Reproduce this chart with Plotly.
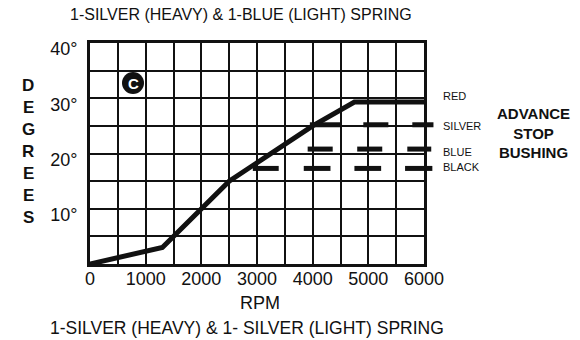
import plotly.graph_objects as go

# ---------------- data ----------------
rpm = [0, 1300, 2500, 4000, 4750, 6000]
degrees = [0, 3, 15, 25, 29.3, 29.3]

x_tick_vals = [0, 1000, 2000, 3000, 4000, 5000, 6000]
x_tick_text = ["0", "1000", "2000", "3000", "4000", "5000", "6000"]
y_tick_vals = [10, 20, 30, 40]
y_tick_text = ["10°", "20°", "30°", "40°"]

stop_names = ["RED", "SILVER", "BLUE", "BLACK"]
silver_level = 25.2
blue_level = 20.8
black_level = 17.3
silver_dashes = [(3950, 4500), (4910, 5360), (5790, 6170)]
blue_dashes = [(3910, 4360), (4800, 5250), (5700, 6130)]
black_dashes = [(2925, 3390), (3840, 4320), (4750, 5230), (5660, 6150)]

title_top = "1-SILVER (HEAVY) &amp; 1-BLUE (LIGHT) SPRING"
title_bottom = "1-SILVER (HEAVY) &amp; 1- SILVER (LIGHT) SPRING"
x_title = "RPM"
y_title = "DEGREES"
side_title = "ADVANCE<br>STOP<br>BUSHING"

# ---------------- layout geometry ----------------
W, H = 580, 340
ML, MR, MT, MB = 90, 146, 43, 76
PW = W - ML - MR
PH = H - MT - MB
XMAX = 6000
main_frac = 334 / PW
FONT = "Liberation Sans, Arial, Helvetica, sans-serif"
INK = "#111111"


def px(xp):
    return (xp - ML) / PW


def py(yp):
    return (H - MB - yp) / PH


def segs(dashes, level):
    xs, ys = [], []
    for a, b in dashes:
        xs += [a, b, None]
        ys += [level, level, None]
    return xs, ys


fig = go.Figure()

fig.add_trace(go.Scatter(x=rpm, y=degrees, mode="lines",
                         line=dict(color=INK, width=5),
                         xaxis="x", yaxis="y", hoverinfo="skip"))

for dashes, level in [(silver_dashes, silver_level),
                      (blue_dashes, blue_level),
                      (black_dashes, black_level)]:
    xs, ys = segs(dashes, level)
    fig.add_trace(go.Scatter(x=xs, y=ys, mode="lines",
                             line=dict(color=INK, width=5),
                             xaxis="x2", yaxis="y2", hoverinfo="skip"))

ann = []
ann.append(dict(text=title_top, x=px(241), y=py(14), xref="paper", yref="paper",
                showarrow=False, font=dict(size=16, color=INK, family=FONT),
                xanchor="center", yanchor="middle"))
ann.append(dict(text=title_bottom, x=px(247), y=py(328), xref="paper", yref="paper",
                showarrow=False, font=dict(size=17.5, color=INK, family=FONT),
                xanchor="center", yanchor="middle"))
ann.append(dict(text=x_title, x=px(260), y=py(303), xref="paper", yref="paper",
                showarrow=False, font=dict(size=18, color=INK, family=FONT),
                xanchor="center", yanchor="middle"))
for i, ch in enumerate(y_title):
    ann.append(dict(text="<b>%s</b>" % ch, x=px(28), y=py(85 + i * 22),
                    xref="paper", yref="paper", showarrow=False,
                    font=dict(size=17, color=INK, family=FONT),
                    xanchor="center", yanchor="middle"))
label_y = [95.7, 125.7, 151.7, 166.5]
for name, yp in zip(stop_names, label_y):
    ann.append(dict(text=name, x=px(441), y=py(yp), xref="paper", yref="paper",
                    showarrow=False, font=dict(size=11, color=INK, family=FONT),
                    xanchor="left", yanchor="middle"))
ann.append(dict(text="<b>%s</b>" % side_title, x=px(533), y=py(133),
                xref="paper", yref="paper", showarrow=False, align="center",
                font=dict(size=15, color=INK, family=FONT),
                xanchor="center", yanchor="middle"))
ann.append(dict(text="<b>C</b>", x=px(133), y=py(83.5), xref="paper", yref="paper",
                showarrow=False, font=dict(size=15, color="white", family=FONT),
                xanchor="center", yanchor="middle"))

shapes = [dict(type="circle", xref="paper", yref="paper",
               x0=px(122), x1=px(144), y0=py(94), y1=py(72),
               fillcolor=INK, line=dict(width=0), layer="above")]

axis_common = dict(showline=True, mirror=True, linecolor=INK, linewidth=3,
                   gridcolor=INK, gridwidth=2, ticks="", zeroline=False,
                   tickfont=dict(size=18, color=INK, family=FONT))

fig.update_layout(
    width=W, height=H,
    margin=dict(l=ML, r=MR, t=MT, b=MB, pad=0),
    paper_bgcolor="white", plot_bgcolor="rgba(0,0,0,0)",
    showlegend=False,
    xaxis=dict(range=[0, XMAX], domain=[0, main_frac], anchor="y",
               tickmode="array", tickvals=x_tick_vals, ticktext=x_tick_text,
               showgrid=True, ticklabelstandoff=-4,
               minor=dict(tickmode="linear", tick0=0, dtick=500, showgrid=True,
                          gridcolor=INK, gridwidth=2, ticks=""),
               **axis_common),
    yaxis=dict(range=[0, 40], domain=[0, 1], anchor="x",
               tickmode="array", tickvals=y_tick_vals, ticktext=y_tick_text,
               showgrid=True, ticklabelshift=6, ticklabelstandoff=6,
               minor=dict(tickmode="array", tickvals=[5, 15, 25, 35], showgrid=True,
                          gridcolor=INK, gridwidth=2, ticks=""),
               **axis_common),
    xaxis2=dict(range=[0, XMAX / main_frac], domain=[0, 1], anchor="y2",
                visible=False, showgrid=False, zeroline=False),
    yaxis2=dict(range=[0, 40], domain=[0, 1], anchor="x2",
                visible=False, showgrid=False, zeroline=False),
    annotations=ann,
    shapes=shapes,
)

fig.write_html("out.html")
